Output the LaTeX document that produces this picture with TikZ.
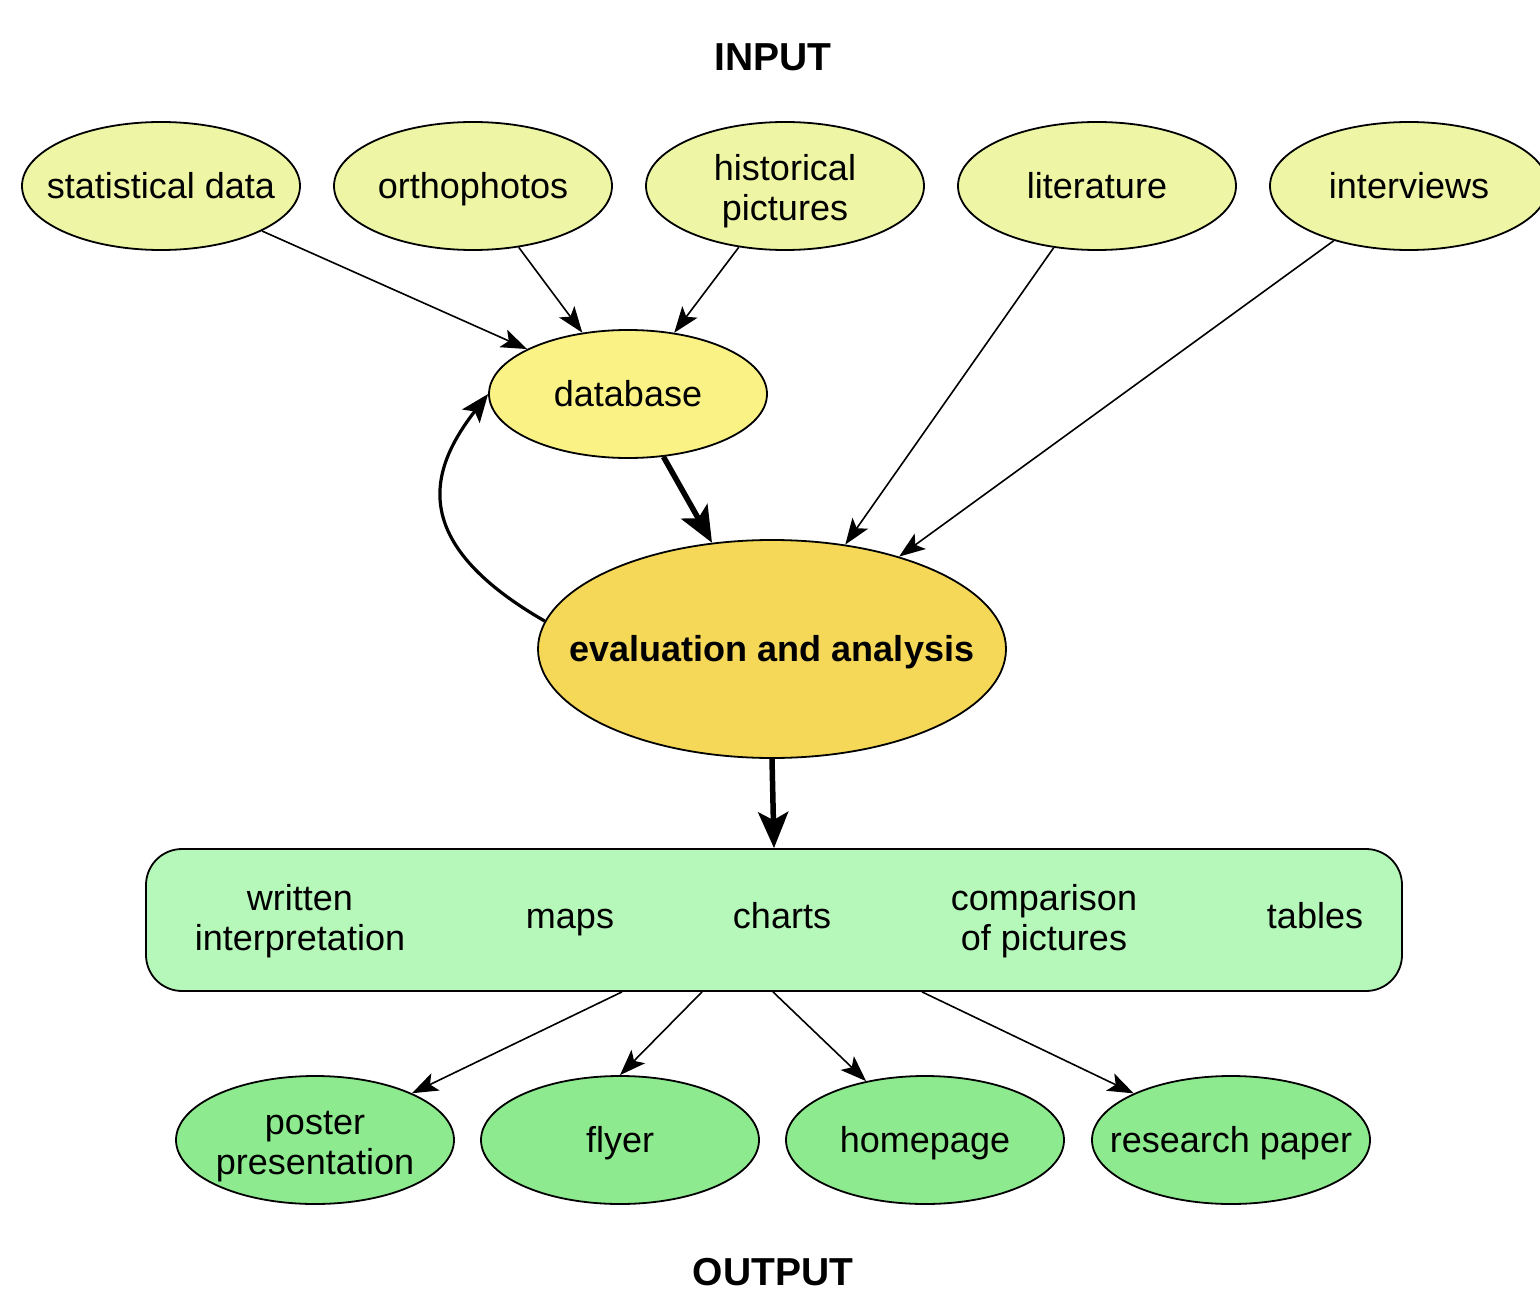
\documentclass[tikz,border=0pt]{standalone}
\usepackage{fontspec}
\setmainfont{Liberation Sans}
\usetikzlibrary{shapes.geometric,arrows.meta,calc}
\definecolor{inyel}{HTML}{EEF5A4}
\definecolor{dbyel}{HTML}{FAF285}
\definecolor{evyel}{HTML}{F5D858}
\definecolor{rectgr}{HTML}{B6F7BA}
\definecolor{outgr}{HTML}{8EEA8E}
\newcommand\tallrule{\rule{0pt}{41pt}}
\tikzset{
  txt/.style={font=\fontsize{36}{40}\selectfont, align=center, execute at begin node=\rule{0pt}{37pt}, execute at end node=\rule[-12pt]{0pt}{12pt}},
  ell/.style={ellipse, draw=black, line width=1.8pt, minimum width=278pt, minimum height=128pt, inner xsep=-60pt, inner ysep=-30pt, txt},
  inell/.style={ell, fill=inyel},
  outell/.style={ell, fill=outgr},
  title/.style={font=\fontsize{39}{44}\selectfont\bfseries},
  thin/.style={line width=1.6pt, -{Stealth[length=26pt,width=19pt,inset=6pt]}},
  thick/.style={line width=5.5pt, -{Stealth[length=36pt,width=30pt,inset=8pt]}},
}
\begin{document}
\begin{tikzpicture}[x=1pt,y=-1pt]
\useasboundingbox[fill=white] (0,0) rectangle (1540,1292);
\node[title] (input) at (773,57) {INPUT};
\node[title] (output) at (773,1272) {OUTPUT};
\node[inell] (stat) at (161,186) {statistical data};
\node[inell] (ortho) at (473,186) {orthophotos};
\node[inell] (hist) at (785,186) {\tallrule historical\\pictures};
\node[inell] (lit) at (1097,186) {literature};
\node[inell] (inter) at (1409,186) {interviews};
\node[ell, fill=dbyel] (db) at (628,394) {database};
\node[ell, fill=evyel, minimum width=468pt, minimum height=218pt, font=\fontsize{36}{40}\selectfont\bfseries] (eval) at (772,649) {evaluation and analysis};
\node[draw=black, line width=1.8pt, fill=rectgr, rounded corners=36pt, minimum width=1256pt, minimum height=142pt, inner sep=0pt] (res) at (774,920) {};
\node[txt] (written) at (300,916) {\tallrule written\\interpretation};
\node[txt] (maps) at (570,916) {maps};
\node[txt] (charts) at (782,916) {charts};
\node[txt] (comp) at (1044,916) {\tallrule comparison\\of pictures};
\node[txt] (tables) at (1315,916) {tables};
\node[outell] (poster) at (315,1140) {\tallrule poster\\presentation};
\node[outell] (flyer) at (620,1140) {flyer};
\node[outell] (home) at (925,1140) {homepage};
\node[outell] (paper) at (1231,1140) {research paper};
\draw[thin] (stat) -- (db);
\draw[thin] (ortho) -- (db);
\draw[thin] (hist) -- (db);
\draw[thin] (lit) -- (eval);
\draw[thin] (inter) -- (eval);
\draw[thick] (db) -- (eval);
\draw[line width=3.2pt, -{Stealth[length=28pt,width=22pt,inset=6pt]}] (eval.173) .. controls +(-139,-80) and +(-58,75) .. (db.west);
\draw[thick] (eval.south) -- (res.north);
\coordinate (s1) at ($(res.south)+(-152,0)$);
\coordinate (s2) at ($(res.south)+(-72,0)$);
\coordinate (s3) at ($(res.south)+(-1,0)$);
\coordinate (s4) at ($(res.south)+(148,0)$);
\draw[thin] (s1) -- (poster);
\draw[thin] (s2) -- (flyer.north);
\draw[thin] (s3) -- (home.135);
\draw[thin] (s4) -- (paper);
\end{tikzpicture}
\end{document}
